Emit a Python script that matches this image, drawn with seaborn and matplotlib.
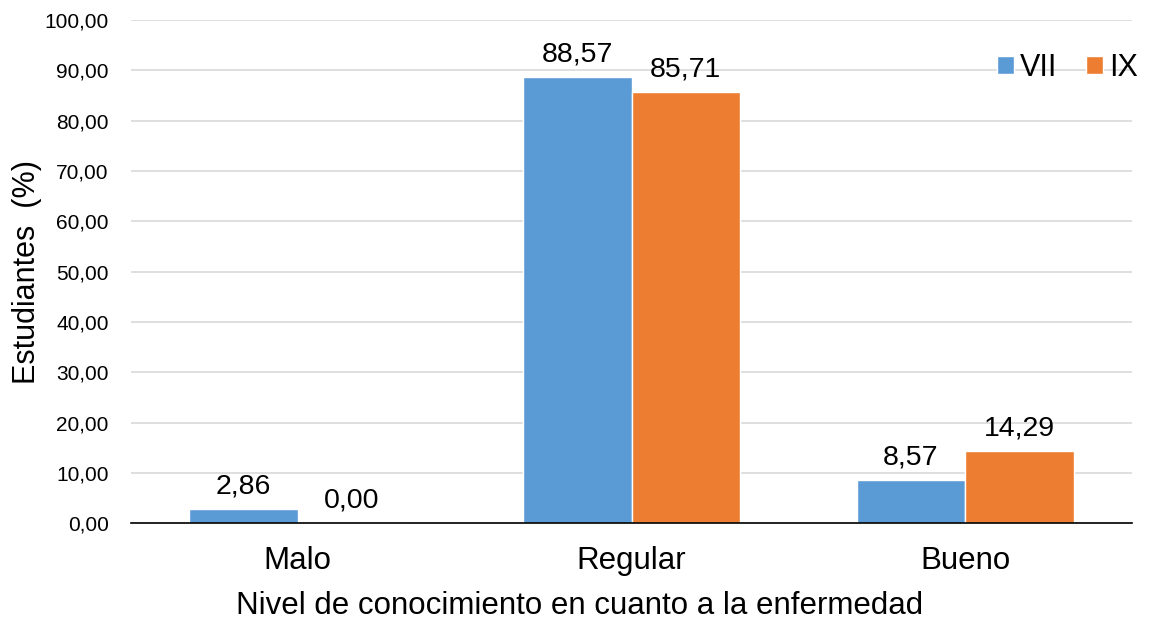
import pandas as pd
import matplotlib
matplotlib.use("Agg")
import matplotlib.pyplot as plt
import seaborn as sns

# Datos
categorias = ["Malo", "Regular", "Bueno"]
grupos = ["VII", "IX"]
valores_vii = [2.86, 88.57, 8.57]
valores_ix = [0.00, 85.71, 14.29]
colores = ["#5B9BD5", "#ED7D31"]

df = pd.DataFrame({
    "nivel": categorias * 2,
    "grupo": [grupos[0]] * 3 + [grupos[1]] * 3,
    "valor": valores_vii + valores_ix,
})

sns.set_theme(style="white")
plt.rcParams["font.family"] = ["Liberation Sans", "DejaVu Sans"]
plt.rcParams["text.color"] = "black"
plt.rcParams["axes.labelcolor"] = "black"
plt.rcParams["xtick.color"] = "black"
plt.rcParams["ytick.color"] = "black"

fig, ax = plt.subplots(figsize=(11.54, 6.23), dpi=100)
fig.subplots_adjust(left=0.1135, right=0.981, top=0.968, bottom=0.16)

sns.barplot(data=df, x="nivel", y="valor", hue="grupo", palette=colores,
            width=0.65, saturation=1, ax=ax, zorder=2)

# etiquetas de datos con coma decimal
for cont in ax.containers:
    ax.bar_label(cont, labels=[f"{v:.2f}".replace(".", ",") for v in cont.datavalues],
                 padding=7, fontsize=20.5)

ax.set_ylim(0, 100)
ax.set_xlim(-0.5, 2.5)
ax.set_yticks(range(0, 101, 10))
ax.set_yticklabels([f"{t:.2f}".replace(".", ",") for t in range(0, 101, 10)], fontsize=15)
ax.tick_params(axis="x", labelsize=22.5, length=0, pad=16)
ax.tick_params(axis="y", length=0, pad=16)
ax.yaxis.grid(True, color="#D9D9D9", linewidth=1.2, zorder=0)
ax.set_axisbelow(True)

for s in ["top", "right", "left"]:
    ax.spines[s].set_visible(False)
ax.spines["bottom"].set_color("black")
ax.spines["bottom"].set_linewidth(1.2)

ax.set_xlabel("Nivel de conocimiento en cuanto a la enfermedad", fontsize=22.5)
ax.xaxis.set_label_coords(0.448, -0.135)
ax.set_ylabel("Estudiantes  (%)", fontsize=22)
ax.yaxis.set_label_coords(-0.089, 0.5)

ax.legend(loc="center right", bbox_to_anchor=(1.018, 0.905), ncol=2, frameon=False,
          fontsize=22, handlelength=0.55, handleheight=0.55, handletextpad=0.2,
          columnspacing=0.95, borderaxespad=0)

fig.savefig("out.png", dpi=100)
